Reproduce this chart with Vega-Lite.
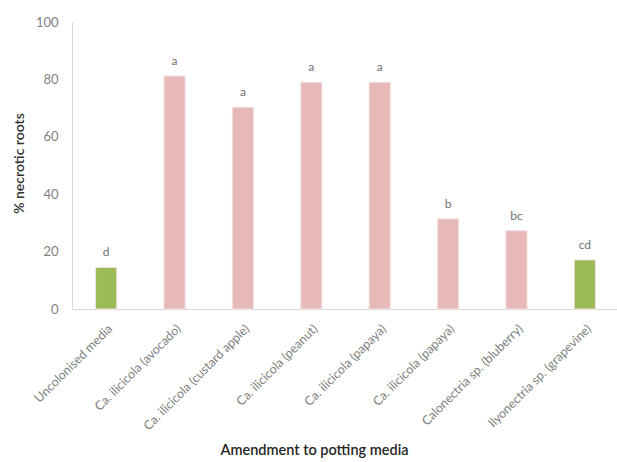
{
  "$schema": "https://vega.github.io/schema/vega-lite/v6.json",
  "autosize": "none",
  "padding": {"left": 72, "top": 22, "right": 0, "bottom": 153},
  "width": 547,
  "height": 287,
  "background": "white",
  "config": {"view": {"stroke": null}, "font": "Lato"},
  "data": {
    "values": [
      {"treatment": "Uncolonised media", "pct": 14.5, "group": "control", "letter": "d"},
      {"treatment": "Ca. ilicicola (avocado)", "pct": 81.2, "group": "pathogen", "letter": "a"},
      {"treatment": "Ca. ilicicola (custard apple)", "pct": 70.3, "group": "pathogen", "letter": "a"},
      {"treatment": "Ca. ilicicola (peanut)", "pct": 79, "group": "pathogen", "letter": "a"},
      {"treatment": "Ca. ilicicola (papaya)", "pct": 79, "group": "pathogen", "letter": "a"},
      {"treatment": "Ca. ilicicola (papaya) ", "pct": 31.4, "group": "pathogen", "letter": "b"},
      {"treatment": "Calonectria sp. (bluberry)", "pct": 27.3, "group": "pathogen", "letter": "bc"},
      {"treatment": "Ilyonectria sp. (grapevine)", "pct": 17.1, "group": "control", "letter": "cd"}
    ]
  },
  "encoding": {
    "x": {
      "field": "treatment",
      "type": "nominal",
      "sort": null,
      "scale": {"paddingInner": 0.69, "paddingOuter": 0.345},
      "axis": {
        "title": "Amendment to potting media",
        "titleFont": "Lato",
        "titleFontSize": 14.5,
        "titleFontWeight": 600,
        "titleColor": "#262626",
        "titleX": 242,
        "titleY": 145,
        "titleBaseline": "alphabetic",
        "labelAngle": -45,
        "labelFontSize": 12.5,
        "labelColor": "#7f7f7f",
        "labelPadding": 13,
        "ticks": false,
        "domainColor": "#d9d9d9",
        "labelLimit": 220
      }
    },
    "y": {
      "field": "pct",
      "type": "quantitative",
      "scale": {"domain": [0, 100]},
      "axis": {
        "title": "% necrotic roots",
        "titleFont": "Lato",
        "titleFontSize": 14,
        "titleFontWeight": 600,
        "titleColor": "#303030",
        "titleX": -53,
        "titleY": 141,
        "titleBaseline": "middle",
        "values": [0, 20, 40, 60, 80, 100],
        "grid": false,
        "ticks": false,
        "labelFontSize": 13,
        "labelColor": "#7f7f7f",
        "labelPadding": 14,
        "domainColor": "#d9d9d9"
      }
    }
  },
  "layer": [
    {
      "mark": {"type": "bar", "stroke": "#f3e3e3", "strokeWidth": 1},
      "encoding": {
        "color": {
          "field": "group",
          "type": "nominal",
          "scale": {"domain": ["control", "pathogen"], "range": ["#9BBB59", "#E6B9B8"]},
          "legend": null
        }
      }
    },
    {
      "mark": {"type": "text", "baseline": "alphabetic", "dy": -11, "fontSize": 12, "color": "#707070"},
      "encoding": {"text": {"field": "letter"}}
    }
  ]
}
